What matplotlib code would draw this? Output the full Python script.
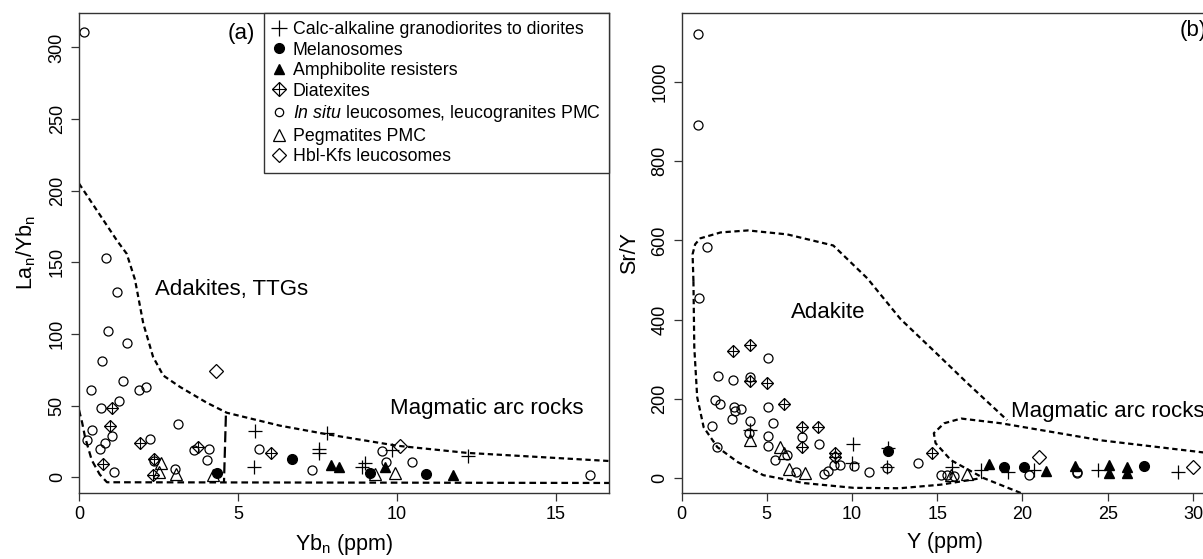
import matplotlib
matplotlib.use('Agg')
import matplotlib.pyplot as plt
from matplotlib.lines import Line2D
from matplotlib.legend_handler import HandlerTuple

plt.rcParams['font.family'] = ['Liberation Sans', 'DejaVu Sans']
plt.rcParams['mathtext.fontset'] = 'custom'
plt.rcParams['mathtext.rm'] = 'Liberation Sans'
plt.rcParams['mathtext.it'] = 'Liberation Sans:italic'

# ---- panel (a): Yb_n vs La_n/Yb_n ----
calc_a_x = [5.53, 5.5, 7.8, 7.55, 7.55, 9.0, 8.9, 9.84, 12.24]
calc_a_y = [32, 7, 31, 20, 17, 10, 7, 19, 15]
mela_a_x = [4.35, 6.69, 9.15, 10.9]
mela_a_y = [3, 12.5, 3, 2.5]
amph_a_x = [7.92, 8.18, 9.62, 11.76]
amph_a_y = [8.5, 7, 7, 1.5]
diat_a_x = [1.04, 0.98, 1.92, 0.75, 2.36, 2.33, 3.74, 6.04]
diat_a_y = [48, 36, 24, 9, 13, 1.4, 21, 17]
leuc_a_x = [0.16, 0.85, 1.19, 0.92, 1.5, 0.72, 1.37, 0.38, 1.89, 2.1, 1.26, 0.68,
            0.4, 0.26, 1.03, 0.81, 0.65, 1.1, 2.22, 3.1, 2.35, 3.03, 3.63, 4.09,
            4.02, 5.67, 9.52, 9.67, 10.47, 7.33, 16.07]
leuc_a_y = [311, 153, 129, 102, 94, 81, 67, 61, 61, 63, 53, 48,
            33, 26, 29, 24, 20, 3.5, 27, 37, 11, 6, 19, 20,
            12, 20, 18, 10.5, 10.5, 5, 1.4]
pegm_a_x = [2.58, 2.52, 3.05, 4.22, 9.3, 9.94]
pegm_a_y = [10, 4, 2, 1.4, 2, 2.8]
hbl_a_x = [4.31, 10.1]
hbl_a_y = [74, 22]

# field boundaries (a)
adak_a_x = [0, 0.6, 1.2, 1.5, 1.76, 2.02, 2.33, 2.65, 3.18, 4.02, 4.65, 6.32, 7.8, 10, 12.2, 16.7]
adak_a_y = [205, 185, 165, 156, 138, 107.5, 84, 71, 63, 52, 45, 36, 30, 22, 17, 11.3]
vert_a_x = [4.62, 4.56]
vert_a_y = [43, -3.5]
low_a_x = [0, 0.1, 0.19, 0.4, 0.65, 0.88, 16.7]
low_a_y = [47, 38, 28, 12, 2, -3.5, -4]

# ---- panel (b): Y vs Sr/Y ----
calc_b_x = [3.99, 10.03, 10.0, 12.06, 12.1, 15.85, 17.55, 19.15, 20.7, 24.45, 29.1]
calc_b_y = [122, 85, 38, 28, 75, 28, 20, 16, 20, 20, 16]
mela_b_x = [12.1, 18.9, 20.1, 27.1]
mela_b_y = [68, 28, 28, 30]
amph_b_x = [18.05, 21.35, 23.1, 25.05, 25.05, 26.1, 26.1]
amph_b_y = [35, 18, 30, 33, 12, 28, 12]
diat_b_x = [3.0, 3.99, 3.99, 4.99, 6.0, 7.04, 7.98, 7.04, 8.98, 8.98, 14.7]
diat_b_y = [321, 336, 246, 241, 186, 129, 129, 78, 62, 53, 62]
leuc_b_x = [0.94, 0.94, 1.47, 1.0, 2.17, 3.0, 3.99, 5.05, 1.97, 2.26, 3.05, 3.15,
            3.5, 2.99, 5.05, 5.34, 3.99, 1.8, 3.93, 5.1, 5.05, 7.04, 8.04, 5.51,
            6.2, 2.1, 6.74, 8.33, 8.62, 8.97, 9.32, 10.1, 10.97, 12.06, 13.85,
            15.2, 15.6, 16.0, 20.4, 23.2, 23.2]
leuc_b_y = [1122, 891, 582, 455, 258, 248, 256, 303, 198, 186, 178, 168,
            173, 150, 178, 138, 143, 130, 113, 105, 80, 103, 85, 45,
            58, 78, 15, 10, 18, 33, 33, 30, 15, 25, 37,
            7, 7, 5, 7, 12, 16]
pegm_b_x = [3.99, 5.76, 6.0, 6.28, 7.22, 15.8, 16.75]
pegm_b_y = [95, 78, 62, 22, 12, 8, 10]
hbl_b_x = [20.95, 30.0]
hbl_b_y = [53, 28]

# field boundaries (b)
adak_b_x = [0.7, 0.75, 0.92, 1.3, 2.1, 3.3, 4.8, 7.2, 10.1, 12.8, 15.2, 17.65]
adak_b_y = [497, 330, 204, 128, 78, 40, 7, -13, -25, -26, -17, 0]
adak_top_x = [0.7, 0.65, 0.8, 1.1, 2.3, 3.9, 6.2, 8.9, 10.9, 12.85, 14.8, 16.8, 19.1]
adak_top_y = [497, 565, 590, 605, 620, 625, 615, 587, 504, 401, 321, 238, 146]
arc_b_x = [30.9, 30.5, 24.6, 18.75, 16.4, 15.4, 14.8, 14.9, 15.8, 17.7, 19.9]
arc_b_y = [63, 65, 95, 138, 150, 138, 113, 88, 45, 0, -38]

W, H = 1203, 559
fig = plt.figure(figsize=(W / 100, H / 100), dpi=100)
ax1 = fig.add_axes([79 / W, 66 / H, 530 / W, 480 / H])
ax2 = fig.add_axes([681.5 / W, 66 / H, 526.5 / W, 480 / H])

dash = (0, (2.4, 1.6))


def draw_points(ax, calc, mela, amph, diat, leuc, pegm, hbl):
    ax.plot(*calc, ls='none', marker='+', ms=10, mew=0.9, color='black')
    ax.plot(*mela, ls='none', marker='o', ms=7, color='black')
    ax.plot(*amph, ls='none', marker='^', ms=7.5, color='black')
    ax.plot(*diat, ls='none', marker='D', ms=6.3, mfc='none', mec='black', mew=0.9)
    ax.plot(*diat, ls='none', marker='+', ms=9.3, mew=0.8, color='black')
    ax.plot(*leuc, ls='none', marker='o', ms=6.5, mfc='none', mec='black', mew=0.9)
    ax.plot(*pegm, ls='none', marker='^', ms=9, mfc='none', mec='black', mew=0.9)
    ax.plot(*hbl, ls='none', marker='D', ms=7, mfc='none', mec='black', mew=0.9)


def style_axes(ax):
    for s in ax.spines.values():
        s.set_linewidth(1.0)
        s.set_color('#333333')
    ax.tick_params(direction='out', length=6, width=0.9, labelsize=13, color='#333333')
    ax.tick_params(axis='y', labelrotation=90)
    for lab in ax.get_yticklabels():
        lab.set_va('center')


# panel (a)
draw_points(ax1, (calc_a_x, calc_a_y), (mela_a_x, mela_a_y), (amph_a_x, amph_a_y),
            (diat_a_x, diat_a_y), (leuc_a_x, leuc_a_y), (pegm_a_x, pegm_a_y), (hbl_a_x, hbl_a_y))
ax1.plot(adak_a_x, adak_a_y, color='black', lw=1.6, ls=dash)
ax1.plot(vert_a_x, vert_a_y, color='black', lw=1.6, ls=(0, (5, 2)))
ax1.plot(low_a_x, low_a_y, color='black', lw=1.6, ls=(0, (3, 1.8)))
ax1.set_xlim(0, 16.67)
ax1.set_ylim(-11, 324)
ax1.set_xticks([0, 5, 10, 15])
ax1.set_yticks([0, 50, 100, 150, 200, 250, 300])
style_axes(ax1)
ax1.set_xlabel('Yb$_\\mathregular{n}$ (ppm)', fontsize=15.5, labelpad=6)
ax1.set_ylabel('La$_\\mathregular{n}$/Yb$_\\mathregular{n}$', fontsize=15.5, labelpad=8)
ax1.text(2.39, 131, 'Adakites, TTGs', fontsize=16, va='center', ha='left')
ax1.text(9.78, 48, 'Magmatic arc rocks', fontsize=16, va='center', ha='left')
ax1.text(5.55, 310, '(a)', fontsize=16, va='center', ha='right')

legend_labels = ['Calc-alkaline granodiorites to diorites', 'Melanosomes',
                 'Amphibolite resisters', 'Diatexites',
                 '$\\mathit{In\\ situ}$ leucosomes, leucogranites PMC',
                 'Pegmatites PMC', 'Hbl-Kfs leucosomes']
h_calc = Line2D([], [], ls='none', marker='+', ms=11, mew=0.9, color='black')
h_mela = Line2D([], [], ls='none', marker='o', ms=7, color='black')
h_amph = Line2D([], [], ls='none', marker='^', ms=7.5, color='black')
h_diat = (Line2D([], [], ls='none', marker='D', ms=6.8, mfc='none', mec='black', mew=0.9),
          Line2D([], [], ls='none', marker='+', ms=10, mew=0.8, color='black'))
h_leuc = Line2D([], [], ls='none', marker='o', ms=6, mfc='none', mec='black', mew=0.9)
h_pegm = Line2D([], [], ls='none', marker='^', ms=9, mfc='none', mec='black', mew=0.9)
h_hbl = Line2D([], [], ls='none', marker='D', ms=7, mfc='none', mec='black', mew=0.9)
leg = ax1.legend([h_calc, h_mela, h_amph, h_diat, h_leuc, h_pegm, h_hbl], legend_labels,
                 handler_map={tuple: HandlerTuple(ndivide=1, pad=0)},
                 loc='upper right', bbox_to_anchor=(1, 1), borderaxespad=0,
                 fontsize=12.8, frameon=True, fancybox=False, framealpha=1,
                 edgecolor='#333333', handlelength=0.8, handletextpad=0.4,
                 labelspacing=0.2, borderpad=0.45)
leg.get_frame().set_linewidth(1.0)

# panel (b)
draw_points(ax2, (calc_b_x, calc_b_y), (mela_b_x, mela_b_y), (amph_b_x, amph_b_y),
            (diat_b_x, diat_b_y), (leuc_b_x, leuc_b_y), (pegm_b_x, pegm_b_y), (hbl_b_x, hbl_b_y))
ax2.plot(adak_b_x, adak_b_y, color='black', lw=1.6, ls=dash)
ax2.plot(adak_top_x, adak_top_y, color='black', lw=1.6, ls=dash)
ax2.plot(arc_b_x, arc_b_y, color='black', lw=1.6, ls=dash)
ax2.set_xlim(0, 30.88)
ax2.set_ylim(-38, 1174)
ax2.set_xticks([0, 5, 10, 15, 20, 25, 30])
ax2.set_yticks([0, 200, 400, 600, 800, 1000])
style_axes(ax2)
ax2.set_xlabel('Y (ppm)', fontsize=15.5, labelpad=6)
ax2.set_ylabel('Sr/Y', fontsize=15.5, labelpad=8)
ax2.text(6.4, 417, 'Adakite', fontsize=16, va='center', ha='left')
ax2.text(19.35, 168, 'Magmatic arc rocks', fontsize=16, va='center', ha='left')
ax2.text(29.2, 1129, '(b)', fontsize=16, va='center', ha='left')

fig.savefig('out.png', dpi=100)
